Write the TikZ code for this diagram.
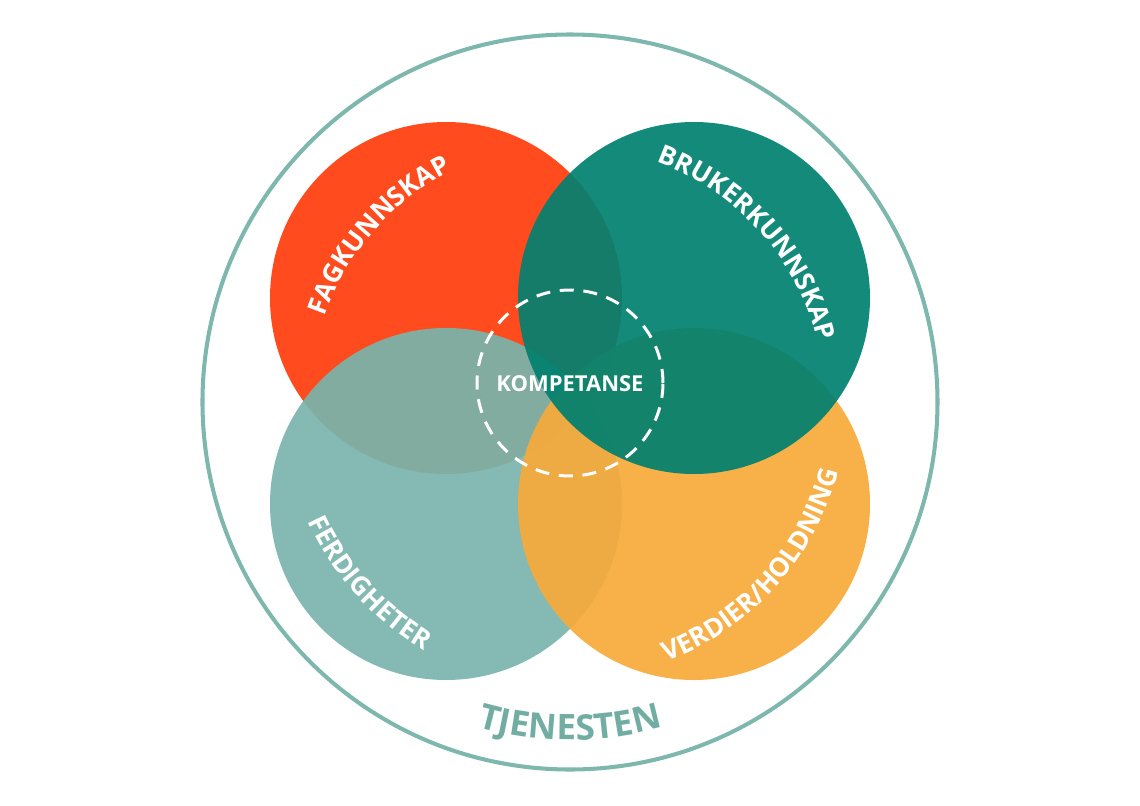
\documentclass[tikz,border=0pt]{standalone}
\usepackage{fontspec}
\setmainfont{Open Sans}
\usetikzlibrary{decorations.text}
\definecolor{kred}{HTML}{FF3C0A}
\definecolor{kdark}{HTML}{00806F}
\definecolor{klight}{HTML}{79B4AC}
\definecolor{korange}{HTML}{F7AA3A}
\definecolor{kring}{HTML}{7DB7AE}
\definecolor{kringtext}{HTML}{72ADA4}
\newcommand{\arcfont}{\fontsize{15}{15}\selectfont\bfseries}
\newcommand{\ringfont}{\fontsize{20}{20}\selectfont\bfseries}

\begin{document}
\begin{tikzpicture}[
    venn/.style={circle, minimum size=7.04cm, inner sep=0pt, draw=none,
                 fill opacity=0.92},
    arctext/.style={decorate, decoration={text along path, text align=center,
                    text color=white}},
    ringtext/.style={decorate, decoration={text along path, text align=center,
                    text color=kringtext}}
  ]

  % ---- Canvas ----
  \useasboundingbox (-11.4,-8.06) rectangle (11.4,8.04);
  \coordinate (O) at (0,0);

  % ---- Outer ring ----
  \node[circle, minimum size=14.7cm, inner sep=0pt, draw=kring,
        line width=2.3pt] (ring) at (O) {};

  % ============ FOUR CIRCLES ============
  \node[venn, fill=kred]    (fag)  at (-2.48, 2.08) {};
  \node[venn, fill=klight]  (ferd) at (-2.48,-2.04) {};
  \node[venn, fill=korange] (verd) at ( 2.48,-2.04) {};
  \node[venn, fill=kdark]   (bruk) at ( 2.48, 2.08) {};

  % ---- Centre ----
  \node[circle, minimum size=3.72cm, inner sep=0pt, draw=white,
        line width=1.7pt, dash pattern=on 8pt off 5.5pt] (komp) at (0,0.38) {};
  \node[text=white, font=\fontsize{12.5}{12.5}\selectfont\bfseries]
    (komptext) at (0,0.36) {KOMPETANSE};

  % ============ CURVED LABELS ============
  \path[arctext, decoration={text={|\arcfont|FAGKUNNSKAP}}]
    ([shift={(169:5.2)}]O) arc[start angle=169, end angle=109, radius=5.2];
  \path[arctext, decoration={text={|\arcfont|BRUKERKUNNSKAP}}]
    ([shift={(80:5.1)}]O) arc[start angle=80, end angle=4, radius=5.1];
  \path[arctext, decoration={text={|\arcfont|FERDIGHETER}}]
    ([shift={(190:5.76)}]O) arc[start angle=190, end angle=254, radius=5.76];
  \path[arctext, decoration={text={|\arcfont|VERDIER/HOLDNING}}]
    ([shift={(280:5.54)}]O) arc[start angle=280, end angle=356, radius=5.54];

  % ---- Ring label ----
  \path[ringtext, decoration={text={|\ringfont|TJENESTEN}}]
    ([shift={(250:6.76)}]O) arc[start angle=250, end angle=290, radius=6.76];

\end{tikzpicture}
\end{document}
